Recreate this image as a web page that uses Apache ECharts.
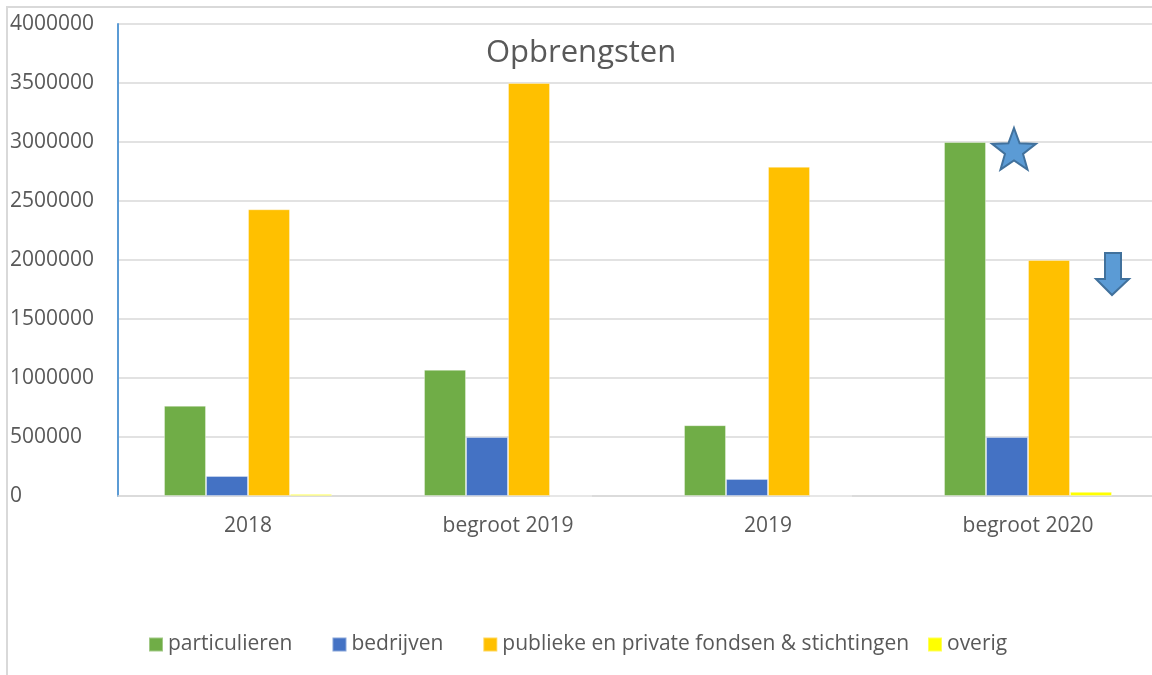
<!DOCTYPE html>
<html>
  <head>
    <meta charset="utf-8" />
    <title>Opbrengsten</title>
    <script src="https://cdn.jsdelivr.net/npm/echarts@6/dist/echarts.min.js"></script>
    <style>
      html, body { margin: 0; padding: 0; background: #fff; overflow: hidden; }
      #main { width: 1158px; height: 675px; }
    </style>
  </head>
  <body>
    <div id="main"></div>
    <script>
      // data
      var categories = ['2018', 'begroot 2019', '2019', 'begroot 2020']
      var particulieren = [765000, 1070000, 600000, 3000000]
      var bedrijven = [170000, 500000, 145000, 500000]
      var fondsen = [2430000, 3500000, 2790000, 2000000]
      var overig = [18000, 0, 0, 35000]
      var yTicks = [0, 500000, 1000000, 1500000, 2000000, 2500000, 3000000, 3500000, 4000000]

      var font = '"Open Sans", "Noto Sans", sans-serif'
      var textColor = '#595959'

      // ster punten (decoratie)
      function starPoints(cx, cy, r, r2) {
        var pts = []
        for (var i = 0; i < 10; i++) {
          var a = -Math.PI / 2 + i * Math.PI / 5
          var rr = i % 2 === 0 ? r : r2
          pts.push([cx + rr * Math.cos(a), cy + rr * Math.sin(a)])
        }
        return pts
      }

      function bar(name, data, color) {
        return {
          name: name,
          type: 'bar',
          data: data,
          barWidth: 42,
          barGap: '0%',
          itemStyle: { color: color, borderColor: 'rgba(255,255,255,0.35)', borderWidth: 1 }
        }
      }

      var legendBase = {
        top: 629,
        itemWidth: 14,
        itemHeight: 14,
        itemGap: 39,
        icon: 'rect',
        textStyle: { fontFamily: font, fontSize: 21, color: textColor }
      }

      var myChart = echarts.init(document.getElementById('main'))
      var option = {
        animation: false,
        grid: { left: 118, top: 24, right: 0, bottom: 179, containLabel: false },
        legend: [
          Object.assign({}, legendBase, {
            left: 143,
            data: ['particulieren', 'bedrijven', 'publieke en private fondsen & stichtingen']
          }),
          Object.assign({}, legendBase, { left: 922, data: ['overig'] })
        ],
        xAxis: {
          type: 'category',
          data: categories,
          axisLine: { lineStyle: { color: '#d9d9d9', width: 1.5 } },
          axisTick: { show: false },
          axisLabel: { fontFamily: font, fontSize: 21, color: textColor, margin: 20 }
        },
        yAxis: {
          type: 'value',
          min: yTicks[0],
          max: yTicks[yTicks.length - 1],
          interval: 500000,
          axisLine: { show: true, lineStyle: { color: '#5b9bd5', width: 2 } },
          axisTick: { show: false },
          axisLabel: {
            fontFamily: font, fontSize: 21, color: textColor,
            align: 'left', margin: 108,
            formatter: function (v) { return String(v) }
          },
          splitLine: { lineStyle: { color: '#d9d9d9', width: 1.5 } }
        },
        series: [
          bar('particulieren', particulieren, '#70ad47'),
          bar('bedrijven', bedrijven, '#4472c4'),
          bar('publieke en private fondsen & stichtingen', fondsen, '#ffc000'),
          bar('overig', overig, '#ffff00')
        ],
        graphic: [
          {
            type: 'rect', silent: true, z: -1,
            shape: { x: 7, y: 7, width: 1200, height: 700 },
            style: { fill: 'none', stroke: '#d9d9d9', lineWidth: 2 }
          },
          {
            type: 'text', left: 486, top: 38,
            style: { text: 'Opbrengsten', fontFamily: font, fontSize: 31, fill: textColor }
          },
          {
            type: 'polygon', z: 10,
            shape: { points: starPoints(1014, 151, 23, 9.5) },
            style: { fill: '#5b9bd5', stroke: '#41719c', lineWidth: 2 }
          },
          {
            type: 'polygon', z: 10,
            shape: { points: [[1105, 253], [1121, 253], [1121, 279], [1129, 279], [1112, 295], [1096, 279], [1105, 279]] },
            style: { fill: '#5b9bd5', stroke: '#41719c', lineWidth: 2 }
          }
        ]
      }
      myChart.setOption(option)
    </script>
  </body>
</html>
